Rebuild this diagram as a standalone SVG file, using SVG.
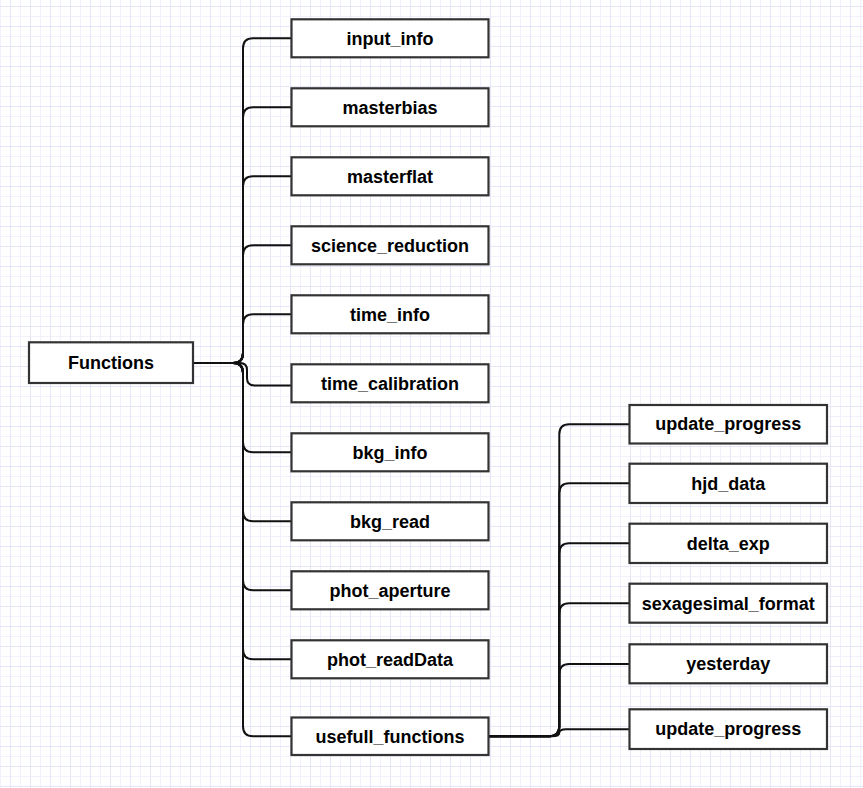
<svg xmlns="http://www.w3.org/2000/svg" width="863" height="788" viewBox="0 0 863 788">
<style>
.box{fill:#fff;stroke:#333;stroke-width:2.2}
.lbl{font-family:"Liberation Sans",Arial,Helvetica,sans-serif;font-weight:bold;font-size:18px;fill:#000;text-anchor:middle}
.edge{fill:none;stroke:#111;stroke-width:2}
</style>
<defs>
<pattern id="grid" patternUnits="userSpaceOnUse" x="0" y="-4" width="20" height="20">
<path d="M0.5 0V20M0 0.5H20" stroke="#f1f1fb" stroke-width="1" fill="none"/>
<path d="M10.5 0V20M0 10.5H20" stroke="#e6e6f9" stroke-width="1" fill="none"/>
</pattern>
</defs>
<rect width="863" height="788" fill="#fff"/>
<rect width="863" height="788" fill="url(#grid)"/>
<g id="connectors">
<path class="edge" d="M193 363H233Q243 363 243 353V48.3Q243 38.3 253 38.3H291.5"/>
<path class="edge" d="M193 363H233Q243 363 243 353V117.3Q243 107.3 253 107.3H291.5"/>
<path class="edge" d="M193 363H233Q243 363 243 353V186.3Q243 176.3 253 176.3H291.5"/>
<path class="edge" d="M193 363H233Q243 363 243 353V255.3Q243 245.3 253 245.3H291.5"/>
<path class="edge" d="M193 363H233Q243 363 243 353V324.3Q243 314.3 253 314.3H291.5"/>
<path class="edge" d="M193 363H240Q247 363 247 370V378Q247 385.5 254.5 385.5H291.5"/>
<path class="edge" d="M193 363H233Q243 363 243 373V442.3Q243 452.3 253 452.3H291.5"/>
<path class="edge" d="M193 363H233Q243 363 243 373V511.3Q243 521.3 253 521.3H291.5"/>
<path class="edge" d="M193 363H233Q243 363 243 373V580.3Q243 590.3 253 590.3H291.5"/>
<path class="edge" d="M193 363H233Q243 363 243 373V649.3Q243 659.3 253 659.3H291.5"/>
<path class="edge" d="M193 363H233Q243 363 243 373V726.3Q243 736.3 253 736.3H291.5"/>
<path class="edge" d="M489 736.3H549.3Q559.3 736.3 559.3 726.3V434.3Q559.3 424.3 569.3 424.3H629.5"/>
<path class="edge" d="M489 736.3H549.3Q559.3 736.3 559.3 726.3V493.2Q559.3 483.2 569.3 483.2H629.5"/>
<path class="edge" d="M489 736.3H549.3Q559.3 736.3 559.3 726.3V553.3Q559.3 543.3 569.3 543.3H629.5"/>
<path class="edge" d="M489 736.3H549.3Q559.3 736.3 559.3 726.3V613.3Q559.3 603.3 569.3 603.3H629.5"/>
<path class="edge" d="M489 736.3H549.3Q559.3 736.3 559.3 726.3V674Q559.3 664 569.3 664H629.5"/>
<path class="edge" d="M489 736.3H552Q559.3 736.3 559.3 732.8Q559.3 729.3 566 729.3H629.5"/>
</g>
<g id="node-functions"><rect class="box" x="29" y="342.3" width="164" height="40.7"/><text class="lbl" x="111" y="368.8">Functions</text></g>
<g id="node-input_info"><rect class="box" x="291.5" y="19.3" width="197" height="38"/><text class="lbl" x="390" y="44.6">input_info</text></g>
<g id="node-masterbias"><rect class="box" x="291.5" y="88.3" width="197" height="38"/><text class="lbl" x="390" y="113.6">masterbias</text></g>
<g id="node-masterflat"><rect class="box" x="291.5" y="157.3" width="197" height="38"/><text class="lbl" x="390" y="182.6">masterflat</text></g>
<g id="node-science_reduction"><rect class="box" x="291.5" y="226.3" width="197" height="38"/><text class="lbl" x="390" y="251.6">science_reduction</text></g>
<g id="node-time_info"><rect class="box" x="291.5" y="295.3" width="197" height="38"/><text class="lbl" x="390" y="320.6">time_info</text></g>
<g id="node-time_calibration"><rect class="box" x="291.5" y="364.3" width="197" height="38"/><text class="lbl" x="390" y="389.6">time_calibration</text></g>
<g id="node-bkg_info"><rect class="box" x="291.5" y="433.3" width="197" height="38"/><text class="lbl" x="390" y="458.6">bkg_info</text></g>
<g id="node-bkg_read"><rect class="box" x="291.5" y="502.3" width="197" height="38"/><text class="lbl" x="390" y="527.6">bkg_read</text></g>
<g id="node-phot_aperture"><rect class="box" x="291.5" y="571.3" width="197" height="38"/><text class="lbl" x="390" y="596.6">phot_aperture</text></g>
<g id="node-phot_readData"><rect class="box" x="291.5" y="640.3" width="197" height="38"/><text class="lbl" x="390" y="665.6">phot_readData</text></g>
<g id="node-usefull_functions"><rect class="box" x="291.5" y="717.5" width="197" height="37.5"/><text class="lbl" x="390" y="742.6">usefull_functions</text></g>
<g id="node-update_progress_1"><rect class="box" x="629.5" y="405" width="197.5" height="38.5"/><text class="lbl" x="728.3" y="430.4">update_progress</text></g>
<g id="node-hjd_data"><rect class="box" x="629.5" y="463.7" width="197.5" height="39.3"/><text class="lbl" x="728.3" y="489.6">hjd_data</text></g>
<g id="node-delta_exp"><rect class="box" x="629.5" y="523.7" width="197.5" height="39.3"/><text class="lbl" x="728.3" y="549.6">delta_exp</text></g>
<g id="node-sexagesimal_format"><rect class="box" x="629.5" y="583.7" width="197.5" height="39"/><text class="lbl" x="728.3" y="609.5">sexagesimal_format</text></g>
<g id="node-yesterday"><rect class="box" x="629.5" y="644.3" width="197.5" height="39"/><text class="lbl" x="728.3" y="670.1">yesterday</text></g>
<g id="node-update_progress_2"><rect class="box" x="629.5" y="709.3" width="197.5" height="39.7"/><text class="lbl" x="728.3" y="735.4">update_progress</text></g>
</svg>
